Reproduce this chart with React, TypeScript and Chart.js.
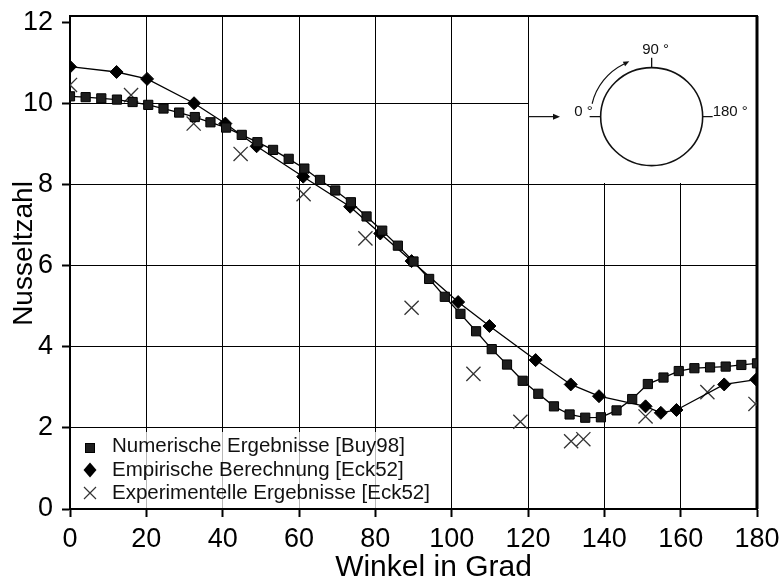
import React, { useEffect, useRef } from "react";
import { Chart, registerables } from "chart.js";

Chart.register(...registerables);

// ---------- data ----------
const ANGLE_NUM = [0, 4.1, 8.2, 12.3, 16.4, 20.5, 24.5, 28.6, 32.7, 36.8, 40.9, 45, 49.1, 53.2, 57.3, 61.4, 65.5, 69.5, 73.6, 77.7, 81.8, 85.9, 90, 94.1, 98.2, 102.3, 106.4, 110.5, 114.5, 118.6, 122.7, 126.8, 130.9, 135, 139.1, 143.2, 147.3, 151.4, 155.5, 159.5, 163.6, 167.7, 171.8, 175.9, 180];
const NU_NUM = [10.17, 10.15, 10.12, 10.09, 10.03, 9.96, 9.87, 9.77, 9.66, 9.53, 9.4, 9.22, 9.04, 8.85, 8.63, 8.39, 8.11, 7.85, 7.56, 7.21, 6.86, 6.49, 6.1, 5.67, 5.23, 4.81, 4.38, 3.94, 3.56, 3.16, 2.84, 2.53, 2.33, 2.25, 2.26, 2.43, 2.71, 3.08, 3.24, 3.4, 3.47, 3.49, 3.51, 3.55, 3.59];

const ANGLE_EMP = [0, 12.2, 20.2, 32.5, 40.7, 48.9, 61.1, 73.4, 81.3, 89.5, 101.7, 109.9, 122, 131.2, 138.6, 150.8, 154.8, 158.9, 171.4, 179.8];
const NU_EMP = [10.9, 10.77, 10.6, 10.0, 9.5, 8.94, 8.19, 7.45, 6.79, 6.11, 5.1, 4.51, 3.67, 3.07, 2.78, 2.53, 2.37, 2.44, 3.07, 3.19];

const ANGLE_EXP = [0, 16, 32.4, 44.7, 61.2, 77.4, 89.5, 105.7, 118, 131.3, 134.5, 150.8, 167, 179.6];
const NU_EXP = [10.45, 10.2, 9.5, 8.75, 7.76, 6.67, 4.96, 3.33, 2.15, 1.67, 1.72, 2.28, 2.88, 2.59];

const SERIES_LABELS = [
  "Numerische Ergebnisse [Buy98]",
  "Empirische Berechnung [Eck52]",
  "Experimentelle Ergebnisse [Eck52]",
];
const X_TITLE = "Winkel in Grad";
const Y_TITLE = "Nusseltzahl";
const X_RANGE = [0, 180];
const Y_RANGE = [0, 12.15];
const Y_TOP_TICK = 12;
const X_TICK_STEP = 20;
const Y_TICK_STEP = 2;
const INSET_LABELS = ["0 °", "90 °", "180 °"];
// inset diagram region (in data units)
const INSET_X = [120, 180];
const INSET_Y_BOTTOM = 8;
const INSET_CENTER = [152.4, 9.67];

const FONT = "'Liberation Sans', Arial, Helvetica, sans-serif";

function toPts(xs: number[], ys: number[]) {
  return xs.map((x, i) => ({ x, y: ys[i] }));
}

function drawSquare(ctx: CanvasRenderingContext2D, x: number, y: number, s: number) {
  ctx.fillStyle = "#1e1e1e";
  ctx.strokeStyle = "#000";
  ctx.lineWidth = 1;
  ctx.fillRect(x - s / 2, y - s / 2, s, s);
  ctx.strokeRect(x - s / 2, y - s / 2, s, s);
}
function drawDiamond(ctx: CanvasRenderingContext2D, x: number, y: number, w: number, h: number) {
  ctx.beginPath();
  ctx.moveTo(x, y - h);
  ctx.lineTo(x + w, y);
  ctx.lineTo(x, y + h);
  ctx.lineTo(x - w, y);
  ctx.closePath();
  ctx.fillStyle = "#000";
  ctx.fill();
}
function drawCross(ctx: CanvasRenderingContext2D, x: number, y: number, r: number) {
  ctx.beginPath();
  ctx.moveTo(x - r, y - r);
  ctx.lineTo(x + r, y + r);
  ctx.moveTo(x + r, y - r);
  ctx.lineTo(x - r, y + r);
  ctx.strokeStyle = "#333";
  ctx.lineWidth = 1.2;
  ctx.stroke();
}

const insetPlugin = {
  id: "insetAndFrame",
  beforeDatasetsDraw(chart: any) {
    const { ctx, chartArea, scales } = chart;
    const xs = scales.x;
    const ys = scales.y;
    const xl = Math.round(xs.getPixelForValue(INSET_X[0]));
    const xr = Math.round(xs.getPixelForValue(INSET_X[1]));
    const yb = Math.round(ys.getPixelForValue(INSET_Y_BOTTOM));
    const yt = Math.round(chartArea.top);
    ctx.save();
    ctx.fillStyle = "#fff";
    ctx.fillRect(xl + 1, yt, xr - xl - 1, yb - yt - 1);

    // frame of the plot area
    ctx.strokeStyle = "#000";
    ctx.lineWidth = 2;
    ctx.strokeRect(chartArea.left, chartArea.top, chartArea.right - chartArea.left, chartArea.bottom - chartArea.top);
    ctx.lineWidth = 3;
    ctx.beginPath();
    ctx.moveTo(chartArea.right, chartArea.top);
    ctx.lineTo(chartArea.right, chartArea.bottom);
    ctx.stroke();

    // circle diagram
    const cx = xs.getPixelForValue(INSET_CENTER[0]);
    const cy = ys.getPixelForValue(INSET_CENTER[1]);
    const rx = 51;
    const ry = 49;
    ctx.strokeStyle = "#111";
    ctx.lineWidth = 1.6;
    ctx.beginPath();
    ctx.ellipse(cx, cy, rx, ry, 0, 0, Math.PI * 2);
    ctx.stroke();
    ctx.lineWidth = 1.3;
    ctx.beginPath();
    ctx.moveTo(cx - rx - 11, cy);
    ctx.lineTo(cx - rx, cy);
    ctx.moveTo(cx + rx, cy);
    ctx.lineTo(cx + rx + 10, cy);
    ctx.moveTo(cx, cy - ry);
    ctx.lineTo(cx, cy - ry - 10);
    ctx.stroke();

    // rotation arrow
    const ra = 61;
    const a0 = (192.6 * Math.PI) / 180;
    const a1 = (243 * Math.PI) / 180;
    ctx.lineWidth = 1.2;
    ctx.beginPath();
    ctx.ellipse(cx, cy, ra, ra - 2, 0, a0, a1);
    ctx.stroke();
    const ex = cx + ra * Math.cos(a1);
    const ey = cy + (ra - 2) * Math.sin(a1);
    const tx = -Math.sin(a1);
    const ty = Math.cos(a1);
    ctx.beginPath();
    ctx.moveTo(ex + tx * 6, ey + ty * 6);
    ctx.lineTo(ex - ty * 2.5, ey + tx * 2.5);
    ctx.lineTo(ex + ty * 2.5, ey - tx * 2.5);
    ctx.closePath();
    ctx.fillStyle = "#111";
    ctx.fill();

    // inflow arrow
    const ay = cy;
    ctx.beginPath();
    ctx.moveTo(xl, ay);
    ctx.lineTo(xl + 30, ay);
    ctx.stroke();
    ctx.beginPath();
    ctx.moveTo(xl + 32, ay);
    ctx.lineTo(xl + 25, ay - 3);
    ctx.lineTo(xl + 25, ay + 3);
    ctx.closePath();
    ctx.fill();

    ctx.fillStyle = "#111";
    ctx.font = `15px ${FONT}`;
    ctx.textBaseline = "middle";
    ctx.textAlign = "right";
    ctx.fillText(INSET_LABELS[0], cx - rx - 8, cy - 5);
    ctx.textAlign = "center";
    ctx.fillText(INSET_LABELS[1], cx + 4, cy - ry - 18);
    ctx.textAlign = "left";
    ctx.fillText(INSET_LABELS[2], cx + rx + 10, cy - 5);
    ctx.restore();
  },
  afterDatasetsDraw(chart: any) {
    const { ctx, chartArea } = chart;
    const left = chartArea.left;
    const bottom = chartArea.bottom;
    ctx.save();
    ctx.fillStyle = "rgba(255,255,255,0.72)";
    ctx.fillRect(left + 2, bottom - 77, 372, 76);
    const mx = left + 20;
    const tx = left + 42;
    const rows = [bottom - 63, bottom - 39, bottom - 16];
    drawSquare(ctx, mx, rows[0] + 2, 9);
    drawDiamond(ctx, mx, rows[1], 6.5, 7.5);
    drawCross(ctx, mx, rows[2], 6);
    ctx.fillStyle = "#111";
    ctx.font = `20.5px ${FONT}`;
    ctx.textAlign = "left";
    ctx.textBaseline = "middle";
    SERIES_LABELS.forEach((t, i) => ctx.fillText(t, tx, rows[i]));

    // axis titles
    ctx.fillStyle = "#000";
    ctx.font = `30px ${FONT}`;
    ctx.textAlign = "center";
    ctx.textBaseline = "alphabetic";
    ctx.fillText(X_TITLE, (chartArea.left + chartArea.right) / 2 + 20, 576);
    ctx.save();
    ctx.translate(32, (chartArea.top + chartArea.bottom) / 2 - 9);
    ctx.rotate(-Math.PI / 2);
    ctx.font = `28px ${FONT}`;
    ctx.fillText(Y_TITLE, 0, 0);
    ctx.restore();
    ctx.restore();
  },
};

export default function App() {
  const ref = useRef<HTMLCanvasElement | null>(null);
  useEffect(() => {
    document.body.style.margin = "0";
    const canvas = ref.current;
    if (!canvas) return;
    const chart = new Chart(canvas, {
      type: "scatter",
      data: {
        datasets: [
          {
            label: SERIES_LABELS[0],
            data: toPts(ANGLE_NUM, NU_NUM),
            showLine: true,
            borderColor: "#000",
            borderWidth: 1.3,
            pointStyle: "rect",
            pointRadius: 6.5,
            pointBackgroundColor: "#1e1e1e",
            pointBorderColor: "#000",
            pointBorderWidth: 1,
          },
          {
            label: SERIES_LABELS[1],
            data: toPts(ANGLE_EMP, NU_EMP),
            showLine: true,
            borderColor: "#000",
            borderWidth: 1.3,
            pointStyle: "rectRot",
            pointRadius: 6.5,
            pointBackgroundColor: "#000",
            pointBorderColor: "#000",
            pointBorderWidth: 1,
          },
          {
            label: SERIES_LABELS[2],
            data: toPts(ANGLE_EXP, NU_EXP),
            showLine: false,
            pointStyle: "crossRot",
            pointRadius: 10,
            pointBorderColor: "#333",
            pointBorderWidth: 1.3,
            borderColor: "#333",
          },
        ],
      },
      options: {
        responsive: false,
        animation: false,
        devicePixelRatio: 1,
        layout: { padding: { top: 16, right: 26, left: 0, bottom: 0 } },
        plugins: { legend: { display: false }, tooltip: { enabled: false } },
        scales: {
          x: {
            type: "linear",
            min: X_RANGE[0],
            max: X_RANGE[1],
            ticks: { stepSize: X_TICK_STEP, color: "#000", padding: 9, font: { size: 27, family: FONT, lineHeight: 1 } },
            grid: { color: "#000", lineWidth: 1, tickLength: 8, tickColor: "#000", tickWidth: 2 },
            border: { color: "#000", width: 2 },
            title: { display: false, text: X_TITLE },
            afterFit: (s: any) => { s.height = 68; s.paddingLeft = 0; s.paddingRight = 0; },
          },
          y: {
            type: "linear",
            min: Y_RANGE[0],
            max: Y_RANGE[1],
            ticks: { stepSize: Y_TICK_STEP, includeBounds: false, color: "#000", padding: 9, font: { size: 27, family: FONT, lineHeight: 1 } },
            grid: {
              color: (c: any) => (c.tick && c.tick.value === Y_TOP_TICK ? "rgba(0,0,0,0)" : "#000"),
              lineWidth: 1,
              tickLength: 8,
              tickColor: "#000",
              tickWidth: 2,
            },
            border: { color: "#000", width: 2 },
            title: { display: false, text: Y_TITLE },
            afterFit: (s: any) => { s.width = 70; s.paddingTop = 0; s.paddingBottom = 0; },
          },
        },
      },
      plugins: [insetPlugin],
    } as any);
    return () => chart.destroy();
  }, []);
  return (
    <div style={{ position: "fixed", left: 0, top: 0, width: 783, height: 577, background: "#fff" }}>
      <canvas ref={ref} width={783} height={577} />
    </div>
  );
}
